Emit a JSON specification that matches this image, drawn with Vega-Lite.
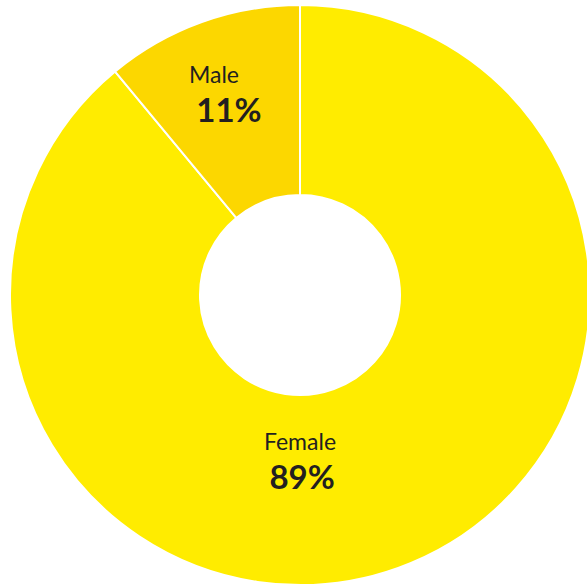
{
  "$schema": "https://vega.github.io/schema/vega-lite/v6.json",
  "width": 574,
  "height": 574,
  "autosize": "none",
  "padding": {"left": 13, "top": 8, "right": 0, "bottom": 5},
  "background": "white",
  "config": {"view": {"stroke": null}},
  "datasets": {
    "shares": [
      {"gender": "Female", "value": 89, "order": 1},
      {"gender": "Male", "value": 11, "order": 2}
    ],
    "labels": [
      {"text": "Male", "pos": 93.87, "r": 229, "kind": "name"},
      {"text": "11%", "pos": 93.8, "r": 187, "kind": "pct"},
      {"text": "Female", "pos": 50, "r": 155, "kind": "name"},
      {"text": "89%", "pos": 49.83, "r": 194, "kind": "pct"}
    ]
  },
  "layer": [
    {
      "data": {"name": "shares"},
      "mark": {"type": "arc", "radius": 290, "radius2": 100, "stroke": "white", "strokeWidth": 2},
      "encoding": {
        "theta": {"field": "value", "type": "quantitative", "stack": true, "scale": {"domain": [0, 100], "range": [0, 6.283185]}},
        "order": {"field": "order", "type": "quantitative"},
        "color": {
          "field": "gender", "type": "nominal",
          "scale": {"domain": ["Female", "Male"], "range": ["#FFEC00", "#FCD700"]},
          "legend": null
        }
      }
    },
    {
      "data": {"name": "labels"},
      "transform": [{"filter": "datum.kind == 'name'"}],
      "mark": {"type": "text", "font": "Lato", "fontSize": 23, "fontWeight": "normal", "color": "#231F20", "align": "center", "baseline": "alphabetic"},
      "encoding": {
        "theta": {"field": "pos", "type": "quantitative", "stack": null, "scale": {"domain": [0, 100], "range": [0, 6.283185]}},
        "radius": {"field": "r", "type": "quantitative", "scale": {"type": "linear", "domain": [0, 300], "range": [0, 300], "zero": true}},
        "text": {"field": "text"}
      }
    },
    {
      "data": {"name": "labels"},
      "transform": [{"filter": "datum.kind == 'pct'"}],
      "mark": {"type": "text", "font": "Lato", "fontSize": 33, "fontWeight": "bold", "color": "#231F20", "align": "center", "baseline": "alphabetic"},
      "encoding": {
        "theta": {"field": "pos", "type": "quantitative", "stack": null, "scale": {"domain": [0, 100], "range": [0, 6.283185]}},
        "radius": {"field": "r", "type": "quantitative", "scale": {"type": "linear", "domain": [0, 300], "range": [0, 300], "zero": true}},
        "text": {"field": "text"}
      }
    }
  ]
}
